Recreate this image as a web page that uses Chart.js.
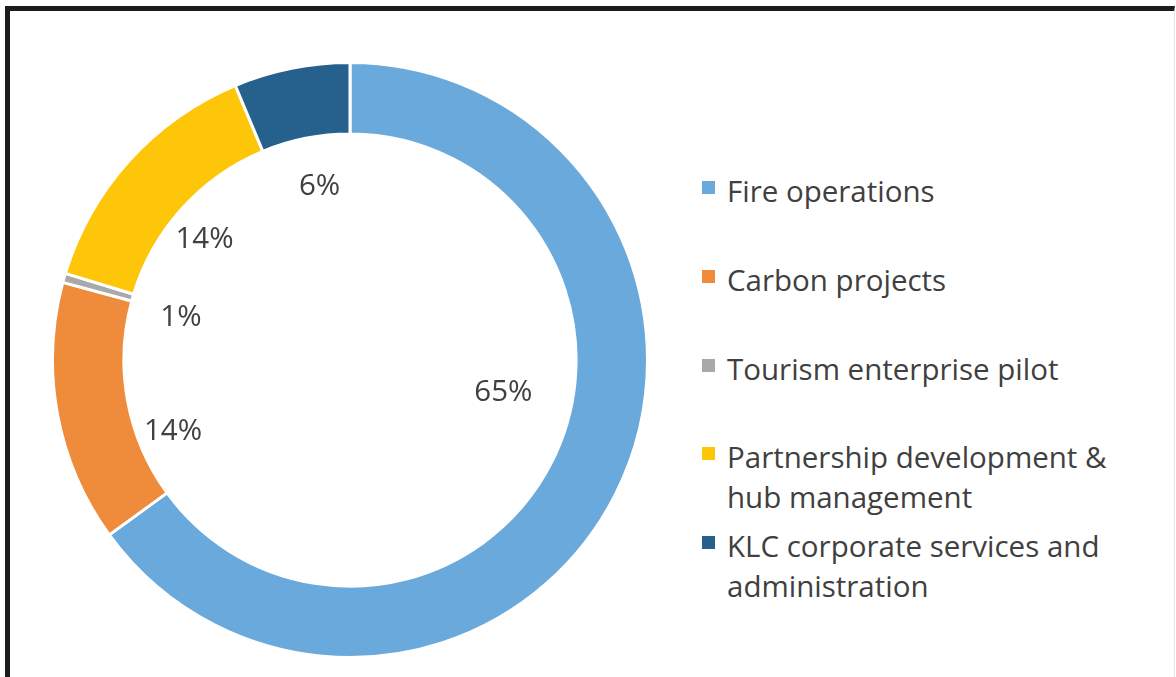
<!DOCTYPE html>
<html>
<head>
<meta charset="utf-8">
<script src="https://cdn.jsdelivr.net/npm/chart.js@4.4.1/dist/chart.umd.min.js"></script>
<style>
    html, body {
        margin: 0;
        padding: 0;
        width: 1176px;
        height: 677px;
        overflow: hidden;
        background: #ffffff;
        font-family: "Open Sans", "Lato", sans-serif;
    }
    .frame {
        position: absolute;
        left: 5px;
        top: 6px;
        width: 1164px;
        height: 700px;
        border-top: 5px solid #1c1c1c;
        border-left: 5px solid #1c1c1c;
        border-right: 1px solid #e4e4e4;
    }
    .chart-box {
        position: absolute;
        left: 51px;
        top: 61px;
        width: 598px;
        height: 598px;
    }
    .legend-item {
        position: absolute;
        left: 702px;
        width: 440px;
        font-size: 29.5px;
        line-height: 40px;
        color: #404040;
    }
    .legend-item .swatch {
        position: absolute;
        left: 0;
        top: 10px;
        width: 13px;
        height: 13px;
    }
    .legend-item .text {
        margin-left: 25px;
        width: 400px;
    }
</style>
</head>
<body>
<div class="frame"></div>
<div class="chart-box"><canvas id="budgetChart"></canvas></div>
<div id="legend"></div>

<script>
// Chart data (share of budget, %)
const categories = [
    "Fire operations",
    "Carbon projects",
    "Tourism enterprise pilot",
    "Partnership development & hub management",
    "KLC corporate services and administration"
];
const shares = [65, 14.2, 0.5, 14, 6.3];
const sliceColors = ["#6AA9DC", "#EF8C3C", "#A9A9A9", "#FEC608", "#26608C"];

// Draw the percentage labels inside the ring
const pctLabelPlugin = {
    id: "pctLabels",
    afterDatasetsDraw(chart, args, opts) {
        const ctx = chart.ctx;
        const meta = chart.getDatasetMeta(0);
        ctx.save();
        ctx.font = opts.font;
        ctx.fillStyle = opts.color;
        ctx.textAlign = "center";
        ctx.textBaseline = "middle";
        meta.data.forEach((arc, i) => {
            const mid = (arc.startAngle + arc.endAngle) / 2;
            const nudge = opts.offsets[i] || [0, 0];
            const x = arc.x + Math.cos(mid) * opts.radius + nudge[0];
            const y = arc.y + Math.sin(mid) * opts.radius + nudge[1];
            ctx.fillText(Math.round(shares[i]) + "%", x, y);
        });
        ctx.restore();
    }
};

const ctx = document.getElementById("budgetChart").getContext("2d");
new Chart(ctx, {
    type: "doughnut",
    data: {
        labels: categories,
        datasets: [{
            data: shares,
            backgroundColor: sliceColors,
            borderColor: "#ffffff",
            borderWidth: 3
        }]
    },
    options: {
        responsive: true,
        maintainAspectRatio: false,
        animation: false,
        cutout: "76%",
        rotation: 0,
        layout: { padding: 0 },
        plugins: {
            legend: { display: false },
            tooltip: { enabled: false },
            pctLabels: {
                radius: 180,
                font: "29.5px 'Open Sans', Lato, sans-serif",
                color: "#404040",
                offsets: [[-7, -49], [0, 39], [4, 7], [-12, 0], [5, 3]]
            }
        }
    },
    plugins: [pctLabelPlugin]
});

// HTML legend on the right
const legendEl = document.getElementById("legend");
categories.forEach((name, i) => {
    const item = document.createElement("div");
    item.className = "legend-item";
    item.style.top = (171 + i * 88.75) + "px";
    item.innerHTML = '<span class="swatch" style="background:' + sliceColors[i] + '"></span>' +
        '<div class="text">' + name + '</div>';
    legendEl.appendChild(item);
});
</script>
</body>
</html>
